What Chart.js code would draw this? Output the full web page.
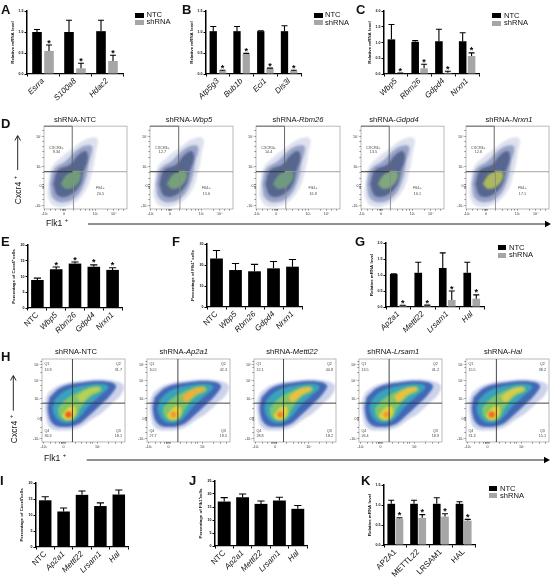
<!DOCTYPE html>
<html>
<head>
<meta charset="utf-8">
<script src="https://cdn.jsdelivr.net/npm/chart.js@4"></script>
<style>
  html, body { margin: 0; background: #fff; overflow: hidden; }
  #page { position: relative; width: 553px; height: 577px; font-family: "Liberation Sans", Arial, sans-serif; color: #111; }
  #page canvas { position: absolute; }
  .abs { position: absolute; white-space: nowrap; line-height: 1; }
  .letter { font-weight: bold; font-size: 13px; }
  .title { font-size: 7.6px; transform: translateX(-50%); }
  .big { font-size: 8.6px; }
  .swatch { position: absolute; }
  sup { font-size: 70%; line-height: 0; }
</style>
</head>
<body>
<div id="page"></div>
<script>
// bar panels, values
const aGenes = ['Esrra', 'S100a8', 'Hdac2'];
const aNtc = [1.0, 1.0, 1.02];
const aNtcTop = [1.06, 1.28, 1.28];
const aSh = [0.55, 0.135, 0.31];
const aShTop = [0.69, 0.255, 0.445];

const bGenes = ['Atp5g3', 'Bub1b', 'Eci1', 'Dis3l'];
const bNtc = [1.02, 1.02, 1.02, 1.02];
const bNtcTop = [1.13, 1.13, 1.03, 1.15];
const bSh = [0.07, 0.48, 0.13, 0.07];
const bShTop = [0.09, 0.49, 0.14, 0.09];

const cGenes = ['Wbp5', 'Rbm26', 'Gdpd4', 'Nrxn1'];
const cNtc = [1.1, 1.02, 1.04, 1.04];
const cNtcTop = [1.57, 1.06, 1.42, 1.31];
const cSh = [0.02, 0.18, 0.04, 0.57];
const cShTop = [0.03, 0.31, 0.085, 0.67];

const eLabels = ['NTC', 'Wbp5', 'Rbm26', 'Gdpd4', 'Nrxn1'];
const eVals = [8.9, 12.3, 14.1, 13.1, 12.1];
const eTop = [9.5, 13.0, 14.6, 13.7, 12.8];
const eStars = [false, true, true, true, true];

const fVals = [23.1, 17.6, 17.0, 18.4, 19.2];
const fTop = [26.9, 20.7, 20.3, 21.7, 22.6];

const gGenes = ['Ap2a1', 'Mettl22', 'Lrsam1', 'Hal'];
const gNtc = [1.03, 1.07, 1.22, 1.07];
const gNtcTop = [1.04, 1.40, 1.69, 1.40];
const gSh = [0.05, 0.05, 0.22, 0.26];
const gShTop = [0.055, 0.06, 0.5, 0.38];

const iLabels = ['NTC', 'Ap2a1', 'Mettl22', 'Lrsam1', 'Hal'];
const iVals = [14.6, 11.1, 16.3, 12.8, 16.4];
const iTop = [15.7, 12.2, 17.5, 13.8, 17.8];

const jVals = [17.1, 18.75, 16.2, 17.5, 14.3];
const jTop = [18.6, 20.0, 17.3, 18.75, 15.6];

const kGenes = ['AP2A1', 'METTL22', 'LRSAM1', 'HAL'];
const kNtc = [1.03, 1.03, 1.03, 1.03];
const kNtcTop = [1.12, 1.12, 1.18, 1.08];
const kSh = [0.66, 0.68, 0.71, 0.61];
const kShTop = [0.68, 0.76, 0.78, 0.64];

// flow panels D, axis units are percent of the plot box
const dTitles = ['Wbp5', 'Rbm26', 'Gdpd4', 'Nrxn1'];
const dCxcr4 = ['9.34', '12.7', '14.4', '13.5', '12.6'];
const dFlk1 = ['20.5', '15.6', '16.9', '16.1', '17.1'];
const dGateX = [34, 34.6, 34, 34, 34];
const dOuter = [[5,30],[9,50],[20,62],[33,72],[50,84],[64,85],[62,66],[58,45],[50,22],[34,6],[14,3],[5,14]];
const dMid = [[7,30],[12,48],[26,58],[36,68],[48,76],[58,75],[54,55],[50,35],[40,16],[24,8],[11,13]];
const dDense = [[11,30],[17,47],[32,54],[40,64],[50,70],[53,62],[48,45],[43,28],[30,16],[17,16]];
const dCore = [[20,30],[28,42],[40,46],[45,42],[40,30],[28,24]];
const dCoreColors = ['#6f9c78', '#75a07a', '#6d9a80', '#7fa67c', '#a9b95c'];
const dTicksX = [1, 8, 14, 20, 22, 23, 24, 25, 26, 36, 44, 50, 55, 59, 62, 77, 84, 90, 96];
const dTicksY = [4, 12, 18, 25, 26, 27, 27.7, 29, 30, 37, 44, 51, 62, 70, 76, 81, 87, 95];
const dLabelsX = { 1: '-10³', 24: '0', 62: '10³', 84: '10⁴' };
const dLabelsY = { 4: '-10³', 27.7: '0', 51: '10³', 87: '10⁴' };

// flow panels H
const hTitles = ['Ap2a1', 'Mettl22', 'Lrsam1', 'Hal'];
const hQ1 = ['13.9', '10.5', '12.1', '13.5', '15.5'];
const hQ2 = ['31.7', '42.3', '40.8', '41.2', '38.2'];
const hQ3 = ['18.1', '19.5', '18.2', '18.9', '15.1'];
const hQ4 = ['36.3', '27.7', '28.8', '26.4', '31.3'];
const hGateX = [36.7, 37.2, 36, 36.3, 36.6];
const hFringe = [[8,60],[22,69],[50,74],[78,75],[98,69],[96,58],[84,46],[72,35],[58,26],[44,17],[26,14],[10,17],[4,35],[4,50]];
const hBlue = [[9,54],[23,66],[50,72],[78,73],[89,68],[83,57],[69,43],[57,32],[43,21],[26,18],[13,22],[7,38]];
const hCyan = [[15,50],[27,61],[50,68],[73,70],[80,66],[69,55],[56,43],[44,29],[32,23],[20,26],[13,38]];
const hGreen = [[19,41],[31,53],[52,64],[69,67],[72,62],[58,54],[46,40],[40,29],[30,26],[21,31]];
const hYellow = [[24,32],[31,41],[39,43],[41,35],[36,28],[28,27]];
const hUpper = [[42,55],[54,63],[68,66],[70,63],[58,57],[47,48]];
const hLowHot = [[32,33], [32,33], [32,33], [33,33], [31,33]];
const hLowColor = ['#ee5a20', '#f09a34', '#f0852c', '#f09a34', '#ee6a24'];
const hUpColor = ['#b8d05a', '#eeb03e', '#ecc044', '#ecc044', '#d8cc50'];
const hTicksX = [2, 10, 16, 21, 23, 24, 25, 26, 27, 28, 40, 48, 54, 58, 61, 67, 80, 88, 96];
const hTicksY = [4, 12, 18, 26, 27, 28, 29, 30, 40, 46, 52, 62, 68, 74, 84, 90, 93, 97];
const hLabelsX = { 2: '-10³', 26: '0', 67: '10²' };
const hLabelsY = { 4: '-10³', 28: '0', 52: '10³', 74: '10⁴', 93: '10⁵' };

const SANS = '"Liberation Sans", Arial, sans-serif';
const page = document.getElementById('page');

function addText(cls, left, top, html) {
  const d = document.createElement('div');
  d.className = 'abs ' + cls;
  d.style.left = left + 'px';
  d.style.top = top + 'px';
  d.innerHTML = html;
  page.appendChild(d);
}

function addCanvas(left, top, w, h) {
  const c = document.createElement('canvas');
  c.width = w;
  c.height = h;
  c.style.left = left + 'px';
  c.style.top = top + 'px';
  page.appendChild(c);
  return c;
}

function addLegend(x, y1, y2, textX) {
  [['#000', 'NTC', y1], ['#a6a6a6', 'shRNA', y2]].forEach(([col, label, y]) => {
    const s = document.createElement('div');
    s.className = 'swatch';
    s.style.cssText = `left:${x}px;top:${y}px;width:8.7px;height:5.2px;background:${col}`;
    page.appendChild(s);
    addText('', textX, y - 1.4, label);
    page.lastChild.style.fontSize = '7.6px';
  });
}

// error bars and stars drawn from the dataset arrays
const errorBars = {
  id: 'errorBars',
  afterDatasetsDraw(chart) {
    const ctx = chart.ctx, y = chart.scales.y;
    chart.data.datasets.forEach((ds, i) => {
      chart.getDatasetMeta(i).data.forEach((bar, j) => {
        const top = y.getPixelForValue(ds.errTop[j]);
        ctx.save();
        ctx.strokeStyle = '#000';
        ctx.lineWidth = 1.1;
        ctx.beginPath();
        ctx.moveTo(bar.x, y.getPixelForValue(ds.data[j]));
        ctx.lineTo(bar.x, top);
        ctx.moveTo(bar.x - ds.cap, top);
        ctx.lineTo(bar.x + ds.cap, top);
        ctx.stroke();
        if (ds.stars && ds.stars[j]) {
          ctx.fillStyle = '#000';
          ctx.font = 'bold 9px ' + SANS;
          ctx.textAlign = 'center';
          ctx.fillText('*', bar.x, top + 0.5);
        }
        ctx.restore();
      });
    });
  }
};

// box = plot area in page pixels
function barChart(box, labels, sets, o) {
  const leftPad = 17, topPad = 12, bottomPad = 34, rightPad = 6;
  const w = box.r - box.l, h = box.b - box.t;
  const canvas = addCanvas(box.l - leftPad, box.t - topPad, w + leftPad + rightPad, h + topPad + bottomPad);
  new Chart(canvas, {
    type: 'bar',
    data: {
      labels,
      datasets: sets.map(s => ({
        data: s.data, errTop: s.top, stars: s.stars, cap: o.cap || 3,
        backgroundColor: s.color, borderWidth: 0,
        barPercentage: o.barPct, categoryPercentage: o.catPct
      }))
    },
    options: {
      responsive: false,
      animation: false,
      layout: { padding: { top: topPad, right: rightPad, left: 0, bottom: 0 } },
      plugins: { legend: { display: false }, tooltip: { enabled: false } },
      scales: {
        x: {
          afterFit: s => { s.height = bottomPad; },
          grid: { display: true, drawOnChartArea: false, tickLength: 2.5, tickWidth: 1, tickColor: '#000' },
          border: { color: '#000', width: 1.3 },
          ticks: {
            autoSkip: false, minRotation: 45, maxRotation: 45, padding: 0, color: '#111',
            font: c => ({ family: SANS, size: 8, style: (o.plainLabels || c.tick.label === 'NTC') ? 'normal' : 'italic' })
          }
        },
        y: {
          min: 0, max: o.max,
          afterFit: s => { s.width = leftPad; },
          grid: { display: true, drawOnChartArea: false, tickLength: 2.5, tickWidth: 1, tickColor: '#000' },
          border: { color: '#000', width: 1.5 },
          title: { display: true, text: o.title, color: '#111', padding: 0, font: { family: SANS, size: 4.4, weight: 'bold' } },
          ticks: {
            stepSize: o.step, padding: 1, color: '#111',
            font: { family: SANS, size: 3.6, weight: 'bold' },
            callback: v => o.ints ? String(v) : v.toFixed(1)
          }
        }
      }
    },
    plugins: [errorBars]
  });
}

const BLACK = '#000', GREY = '#a6a6a6';
const allStars = n => new Array(n).fill(true);

barChart({ l: 27, r: 123, t: 11, b: 74 }, aGenes, [
  { data: aNtc, top: aNtcTop, color: BLACK },
  { data: aSh, top: aShTop, color: GREY, stars: allStars(3) }
], { max: 1.5, step: 0.5, title: 'Relative mRNA level', barPct: 0.8, catPct: 0.75 });

barChart({ l: 206, r: 301, t: 11, b: 74 }, bGenes, [
  { data: bNtc, top: bNtcTop, color: BLACK },
  { data: bSh, top: bShTop, color: GREY, stars: allStars(4) }
], { max: 1.5, step: 0.5, title: 'Relative mRNA level', barPct: 0.79, catPct: 0.78 });

barChart({ l: 384, r: 479.6, t: 11, b: 74 }, cGenes, [
  { data: cNtc, top: cNtcTop, color: BLACK },
  { data: cSh, top: cShTop, color: GREY, stars: allStars(4) }
], { max: 2, step: 0.5, title: 'Relative mRNA level', barPct: 0.85, catPct: 0.75 });

barChart({ l: 27.6, r: 121.6, t: 245.3, b: 308.3 }, eLabels, [
  { data: eVals, top: eTop, color: BLACK, stars: eStars }
], { max: 20, step: 5, ints: true, title: 'Percentage of Cxcr4⁺ cells', barPct: 1, catPct: 0.67, cap: 3.6 });

barChart({ l: 206.5, r: 301.5, t: 243.7, b: 307.3 }, eLabels, [
  { data: fVals, top: fTop, color: BLACK }
], { max: 30, step: 10, ints: true, title: 'Percentage of Flk1⁺ cells', barPct: 1, catPct: 0.67, cap: 3.6 });

barChart({ l: 386, r: 484, t: 243.3, b: 308 }, gGenes, [
  { data: gNtc, top: gNtcTop, color: BLACK },
  { data: gSh, top: gShTop, color: GREY, stars: allStars(4) }
], { max: 2, step: 0.5, title: 'Relative mRNA level', barPct: 0.85, catPct: 0.735 });

barChart({ l: 36, r: 128.6, t: 483.3, b: 548 }, iLabels, [
  { data: iVals, top: iTop, color: BLACK }
], { max: 20, step: 5, ints: true, title: 'Percentage of Cxcr4⁺cells', barPct: 1, catPct: 0.68, cap: 3.6 });

barChart({ l: 215, r: 307.5, t: 481.3, b: 546.7 }, iLabels, [
  { data: jVals, top: jTop, color: BLACK }
], { max: 25, step: 5, ints: true, title: 'Percentage of Flk1⁺cells', barPct: 1, catPct: 0.7, cap: 3.6 });

barChart({ l: 384.2, r: 476, t: 484.7, b: 545 }, kGenes, [
  { data: kNtc, top: kNtcTop, color: BLACK },
  { data: kSh, top: kShTop, color: GREY, stars: allStars(4) }
], { max: 1.5, step: 0.5, title: 'Relative mRNA level', barPct: 0.93, catPct: 0.725, plainLabels: true });

const cloud = (pts, color) => ({
  data: pts.concat([pts[0]]).map(p => ({ x: p[0], y: p[1] })),
  showLine: true, fill: 'shape', tension: 0.4, borderWidth: 0, pointRadius: 0, backgroundColor: color
});
const hotSpot = (pt, color, radius) => ({
  data: [{ x: pt[0], y: pt[1] }], pointRadius: radius, pointBackgroundColor: color, pointBorderWidth: 0
});

function flowChart(box, layers, o) {
  const leftPad = 11, bottomPad = 10, topPad = 3, rightPad = 4;
  const w = box.r - box.l, h = box.b - box.t;
  const canvas = addCanvas(box.l - leftPad, box.t - topPad, w + leftPad + rightPad, h + topPad + bottomPad);
  const axis = (vals, labels, fit) => ({
    type: 'linear', min: 0, max: 100,
    afterBuildTicks: s => { s.ticks = vals.map(value => ({ value })); },
    afterFit: fit,
    grid: { display: true, drawOnChartArea: false, tickLength: 1.5, tickWidth: 0.6, tickColor: '#222' },
    border: { display: false },
    ticks: {
      autoSkip: false, maxRotation: 0, minRotation: 0, padding: 1, color: '#333',
      font: { family: SANS, size: 3.6 },
      callback: v => labels[v] || ''
    }
  });
  new Chart(canvas, {
    type: 'scatter',
    // chart.js paints the first dataset last, layers are listed bottom to top
    data: { datasets: layers.slice().reverse() },
    options: {
      responsive: false,
      animation: false,
      layout: { padding: { top: topPad, right: rightPad, left: 0, bottom: 0 } },
      plugins: { legend: { display: false }, tooltip: { enabled: false } },
      scales: {
        x: axis(o.ticksX, o.labelsX, s => { s.height = bottomPad; }),
        y: axis(o.ticksY, o.labelsY, s => { s.width = leftPad; })
      }
    },
    plugins: [{
      id: 'softClouds',
      beforeDatasetsDraw(chart) { chart.ctx.filter = `blur(${o.blur}px)`; },
      afterDatasetsDraw(chart) {
        const { ctx, chartArea: a, scales: { x, y } } = chart;
        ctx.filter = 'none';
        ctx.strokeStyle = '#a8a8a8';
        ctx.lineWidth = 0.8;
        ctx.strokeRect(a.left, a.top, a.right - a.left, a.bottom - a.top);
        o.gates.forEach(g => {
          ctx.strokeStyle = g.color;
          ctx.lineWidth = g.width;
          ctx.beginPath();
          ctx.moveTo(x.getPixelForValue(g.from[0]), y.getPixelForValue(g.from[1]));
          ctx.lineTo(x.getPixelForValue(g.to[0]), y.getPixelForValue(g.to[1]));
          ctx.stroke();
        });
        ctx.fillStyle = '#444';
        ctx.font = '3.7px ' + SANS;
        o.notes.forEach(n => {
          ctx.textAlign = n.align;
          ctx.fillText(n.text, x.getPixelForValue(n.at[0]), y.getPixelForValue(n.at[1]));
        });
      }
    }]
  });
}

// D row
const dBoxes = [[44.3, 127.3], [150.3, 233.3], [256, 340], [361, 444], [466, 549.3]];
const dTitleX = [75, 189, 298, 394, 509];
dBoxes.forEach((b, i) => {
  const gx = dGateX[i];
  flowChart({ l: b[0], r: b[1], t: 126, b: 209 }, [
    cloud(dOuter, '#dde1ee'),
    cloud(dMid, '#98a3c8'),
    cloud(dDense, '#56668f'),
    cloud(dCore, dCoreColors[i])
  ], {
    blur: 1.2, ticksX: dTicksX, ticksY: dTicksY, labelsX: dLabelsX, labelsY: dLabelsY,
    gates: [
      { from: [gx + 1.5, 45], to: [gx + 1.5, 0], color: '#8c8c8c', width: 0.9 },
      { from: [gx, 45], to: [100, 45], color: '#9a9a9a', width: 0.9 },
      { from: [0, 100], to: [gx, 100], color: '#666', width: 1 },
      { from: [gx, 100], to: [gx, 45], color: '#666', width: 1 },
      { from: [0, 45], to: [gx, 45], color: '#333', width: 1 }
    ],
    notes: [
      { text: 'CXCR4+', at: [15, 73], align: 'center' },
      { text: dCxcr4[i], at: [15, 67], align: 'center' },
      { text: 'Flk1+', at: [68, 24], align: 'center' },
      { text: dFlk1[i], at: [68, 17], align: 'center' }
    ]
  });
  addText('title', dTitleX[i], 115.5, i === 0 ? 'shRNA-NTC' : `shRNA-<i>${dTitles[i - 1]}</i>`);
});

// H row
const hBoxes = [[41.7, 125], [146.7, 230], [254.3, 336.7], [359, 442.3], [465.7, 549]];
const hTitleX = [76, 183.7, 292, 393.3, 503];
hBoxes.forEach((b, i) => {
  const gx = hGateX[i];
  flowChart({ l: b[0], r: b[1], t: 358.3, b: 442.3 }, [
    cloud(hFringe, '#ccd2ea'),
    cloud(hBlue, '#4267b6'),
    cloud(hCyan, '#3aa3bc'),
    cloud(hGreen, '#7fc56a'),
    cloud(hUpper, hUpColor[i]),
    cloud(hYellow, '#e6d23e'),
    hotSpot(hLowHot[i], hLowColor[i], 3.2)
  ], {
    blur: 1.0, ticksX: hTicksX, ticksY: hTicksY, labelsX: hLabelsX, labelsY: hLabelsY,
    gates: [
      { from: [gx, 100], to: [gx, 0], color: '#333', width: 0.9 },
      { from: [0, 46.8], to: [100, 46.8], color: '#333', width: 0.9 }
    ],
    notes: [
      { text: 'Q1', at: [3, 93], align: 'left' },
      { text: hQ1[i], at: [3, 86], align: 'left' },
      { text: 'Q2', at: [92, 93], align: 'center' },
      { text: hQ2[i], at: [92, 86], align: 'center' },
      { text: 'Q4', at: [3, 12], align: 'left' },
      { text: hQ4[i], at: [3, 5.5], align: 'left' },
      { text: 'Q3', at: [92, 12], align: 'center' },
      { text: hQ3[i], at: [92, 5.5], align: 'center' }
    ]
  });
  addText('title', hTitleX[i], 348, i === 0 ? 'shRNA-NTC' : `shRNA-<i>${hTitles[i - 1]}</i>`);
});

addLegend(135, 12.7, 19.5, 146.5);
addLegend(314, 12.7, 20, 325);
addLegend(492.3, 13.3, 20.7, 504);
addLegend(497.7, 245, 252.7, 509);
addLegend(488.7, 486, 493.3, 500);

[['A', 1, 3], ['B', 182, 3], ['C', 356, 3], ['D', 1, 117], ['E', 1, 235], ['F', 172, 235],
 ['G', 355, 235], ['H', 1, 350], ['I', 0, 474], ['J', 189, 474], ['K', 361, 474]].forEach(([t, x, y]) => {
  addText('letter', x, y, t);
});

// big arrows and their labels
const ns = 'http://www.w3.org/2000/svg';
const svg = document.createElementNS(ns, 'svg');
svg.setAttribute('width', 553);
svg.setAttribute('height', 577);
svg.style.cssText = 'position:absolute;left:0;top:0';
[[17.7, 170, 17.7, 136], [13.3, 410.7, 13.3, 376]].forEach(([x1, y1, x2, y2]) => {
  svg.innerHTML += `<line x1="${x1}" y1="${y1}" x2="${x2}" y2="${y2}" stroke="#111" stroke-width="0.9"/>`
    + `<path d="M${x2 - 2.8} ${y2 + 4.5} L${x2} ${y2 - 0.5} L${x2 + 2.8} ${y2 + 4.5}" fill="none" stroke="#111" stroke-width="0.9"/>`;
});
[[88, 545, 224], [86.7, 544, 460]].forEach(([x1, x2, y]) => {
  svg.innerHTML += `<line x1="${x1}" y1="${y}" x2="${x2}" y2="${y}" stroke="#222" stroke-width="1"/>`
    + `<path d="M${x2} ${y - 3.2} L${x2 + 6} ${y} L${x2} ${y + 3.2} Z" fill="#000"/>`;
});
page.appendChild(svg);

addText('big', 46, 219, 'Flk1 <sup>+</sup>');
addText('big', 44, 454, 'Flk1 <sup>+</sup>');
['18,190', '13.5,429'].forEach(p => {
  const [x, y] = p.split(',');
  addText('big', +x, +y, 'Cxcr4 <sup>+</sup>');
  page.lastChild.style.transform = 'translate(-50%,-50%) rotate(-90deg)';
});
</script>
</body>
</html>
